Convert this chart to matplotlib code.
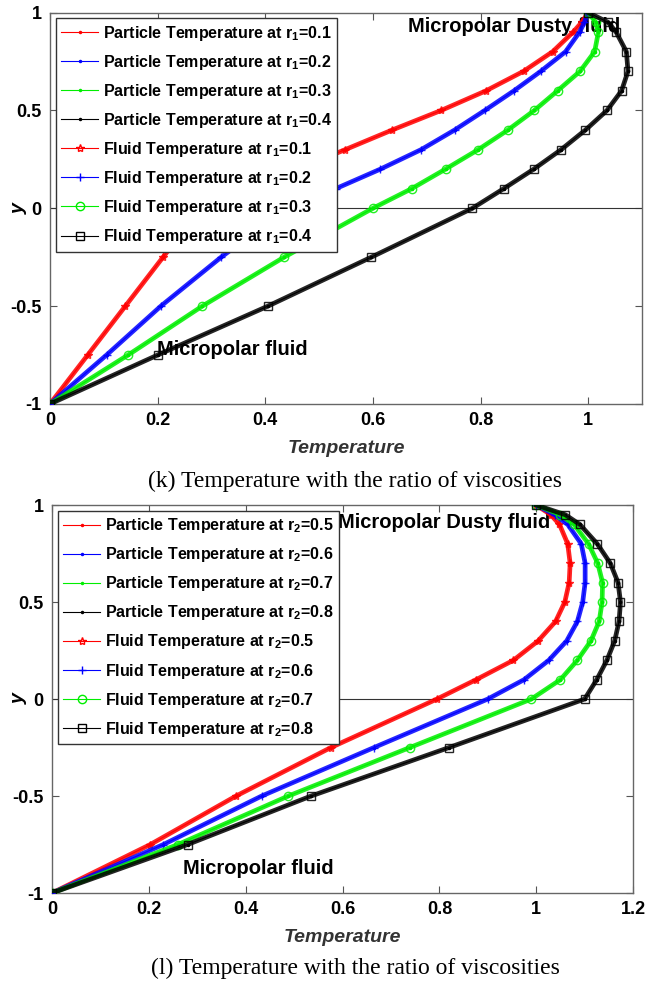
import matplotlib
matplotlib.use("Agg")
import matplotlib.pyplot as plt

plt.rcParams['font.family'] = ['Liberation Sans', 'DejaVu Sans']
plt.rcParams['mathtext.fontset'] = 'custom'
plt.rcParams['mathtext.rm'] = 'Liberation Sans:bold'
plt.rcParams['mathtext.bf'] = 'Liberation Sans:bold'
plt.rcParams['mathtext.it'] = 'Liberation Sans:bold'

# ---------------- data ----------------
y_levels = [-1, -0.75, -0.5, -0.25, 0, 0.1, 0.2, 0.3, 0.4, 0.5, 0.6, 0.7, 0.8, 0.9, 0.95, 1]

# (k) ratio of viscosities r1
r1_values = ['0.1', '0.2', '0.3', '0.4']
T_r1_01 = [0, 0.07, 0.14, 0.21, 0.28, 0.37, 0.46, 0.549, 0.636, 0.727, 0.81, 0.88, 0.934, 0.972, 0.988, 1.0]
T_r1_02 = [0, 0.105, 0.206, 0.318, 0.44, 0.531, 0.614, 0.69, 0.752, 0.808, 0.862, 0.912, 0.958, 0.984, 0.993, 1.0]
T_r1_03 = [0, 0.145, 0.283, 0.435, 0.60, 0.672, 0.735, 0.796, 0.851, 0.90, 0.943, 0.985, 1.012, 1.019, 1.014, 1.0]
T_r1_04 = [0, 0.20, 0.405, 0.597, 0.785, 0.843, 0.899, 0.95, 0.995, 1.035, 1.062, 1.074, 1.071, 1.052, 1.037, 1.0]

# (l) ratio of viscosities r2
r2_values = ['0.5', '0.6', '0.7', '0.8']
T_r2_05 = [0, 0.203, 0.38, 0.576, 0.795, 0.876, 0.953, 1.004, 1.04, 1.059, 1.068, 1.07, 1.065, 1.048, 1.03, 1.0]
T_r2_06 = [0, 0.23, 0.433, 0.665, 0.90, 0.975, 1.026, 1.063, 1.085, 1.096, 1.101, 1.101, 1.093, 1.065, 1.038, 1.0]
T_r2_07 = [0, 0.26, 0.488, 0.739, 0.99, 1.05, 1.085, 1.113, 1.13, 1.136, 1.137, 1.127, 1.108, 1.078, 1.05, 1.0]
T_r2_08 = [0, 0.28, 0.535, 0.82, 1.10, 1.125, 1.146, 1.162, 1.171, 1.174, 1.169, 1.153, 1.126, 1.09, 1.06, 1.0]

colors = ['#ff0000', '#0000ff', '#00ee00', '#000000']
fluid_markers = ['*', '+', 'o', 's']

fig = plt.figure(figsize=(6.46, 9.86), dpi=100)


def panel(rect, series, rvals, sub, xmax, xticks, xticklabels,
          dusty_pos, fluid_pos, caption, cap_y, ylab_x):
    ax = fig.add_axes(rect)
    # particle temperatures (coincide with the fluid ones)
    for T, c, rv in zip(series, colors, rvals):
        ax.plot(T, y_levels, '-', color=c, lw=0.8, marker='.', ms=3, zorder=3,
                label='Particle Temperature at r$_{%s}$=%s' % (sub, rv))
    for T, c, m, rv in zip(series, colors, fluid_markers, rvals):
        ax.plot(T, y_levels, '-', color=c, lw=3.4, marker=m, ms=6,
                mfc='none', mew=1.0, zorder=4, alpha=0.85,
                label='Fluid Temperature at r$_{%s}$=%s' % (sub, rv))
    ax.axhline(0, color='#333333', lw=0.8, zorder=2)
    ax.set_xlim(0, xmax)
    ax.set_ylim(-1, 1)
    ax.set_xticks(xticks)
    ax.set_xticklabels(xticklabels)
    ax.set_yticks([-1, -0.5, 0, 0.5, 1])
    ax.set_yticklabels(['-1', '-0.5', '0', '0.5', '1'])
    ax.tick_params(direction='in', top=True, right=True, length=5, width=0.8,
                   color='#555555', labelsize=13, pad=6)
    for lab in ax.get_xticklabels() + ax.get_yticklabels():
        lab.set_fontweight('bold')
    for s in ax.spines.values():
        s.set_color('#666666')
        s.set_linewidth(1.0)
    ax.set_xlabel('Temperature', fontsize=14, fontweight='bold', style='italic',
                  color='#333333', labelpad=8)
    ax.set_ylabel('y', fontsize=14, fontweight='bold', style='italic')
    ax.yaxis.set_label_coords(ylab_x, 0.5)
    ax.text(dusty_pos[0], dusty_pos[1], 'Micropolar Dusty fluid', fontsize=14.5,
            fontweight='bold', va='center', ha='left', zorder=1)
    ax.text(fluid_pos[0], fluid_pos[1], 'Micropolar fluid', fontsize=14.5,
            fontweight='bold', va='center', ha='left', zorder=1)
    leg = ax.legend(loc='upper left', fontsize=11.5, frameon=True, fancybox=False,
                    edgecolor='#333333', framealpha=1, borderaxespad=0.35,
                    handlelength=2.3, handletextpad=0.3, labelspacing=0.63,
                    borderpad=0.35)
    leg.get_frame().set_linewidth(1.0)
    for t in leg.get_texts():
        t.set_fontweight('bold')
    for h in leg.legend_handles:
        h.set_linewidth(0.8)
        h.set_alpha(1)
    fig.text(0.55, cap_y, caption, fontsize=17, family='Liberation Serif',
             ha='center', va='center')
    return ax


panel([0.0774, 0.5903, 0.9164, 0.397], [T_r1_01, T_r1_02, T_r1_03, T_r1_04],
      r1_values, '1', 1.1, [0, 0.2, 0.4, 0.6, 0.8, 1],
      ['0', '0.2', '0.4', '0.6', '0.8', '1'],
      (0.665, 0.93), (0.199, -0.72),
      '(k) Temperature with the ratio of viscosities', 1 - 481 / 986, -0.037)

panel([0.0805, 0.0943, 0.8995, 0.3935], [T_r2_05, T_r2_06, T_r2_07, T_r2_08],
      r2_values, '2', 1.2, [0, 0.2, 0.4, 0.6, 0.8, 1, 1.2],
      ['0', '0.2', '0.4', '0.6', '0.8', '1', '1.2'],
      (0.59, 0.91), (0.27, -0.873),
      '(l) Temperature with the ratio of viscosities', 1 - 968 / 986, -0.042)

fig.savefig('out.png', dpi=100)
